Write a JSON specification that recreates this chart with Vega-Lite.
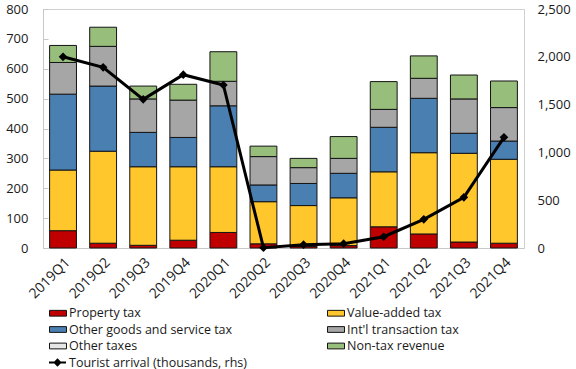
{
  "$schema": "https://vega.github.io/schema/vega-lite/v6.json",
  "width": 481,
  "height": 239,
  "autosize": {"type": "none"},
  "padding": {"left": 43, "top": 9, "right": 52, "bottom": 121},
  "config": {
    "font": "Open Sans",
    "view": {"stroke": "#d0d0d0", "strokeWidth": 1},
    "axis": {"labelFont": "Open Sans", "labelFontSize": 13, "labelColor": "#1a1a1a", "domainColor": "#c8c8c8", "tickColor": "#c8c8c8", "grid": false, "title": null},
    "legend": {"labelFont": "Open Sans", "labelFontSize": 12.5, "labelColor": "#1a1a1a", "padding": 0}
  },
  "datasets": {
    "rev": [
      {"q": "2019Q1", "cat": "Property tax", "k": 1, "v": 58},
      {"q": "2019Q1", "cat": "Value-added tax", "k": 2, "v": 203},
      {"q": "2019Q1", "cat": "Other goods and service tax", "k": 3, "v": 254},
      {"q": "2019Q1", "cat": "Int'l transaction tax", "k": 4, "v": 106},
      {"q": "2019Q1", "cat": "Non-tax revenue", "k": 6, "v": 57},
      {"q": "2019Q2", "cat": "Property tax", "k": 1, "v": 16},
      {"q": "2019Q2", "cat": "Value-added tax", "k": 2, "v": 308},
      {"q": "2019Q2", "cat": "Other goods and service tax", "k": 3, "v": 218},
      {"q": "2019Q2", "cat": "Int'l transaction tax", "k": 4, "v": 133},
      {"q": "2019Q2", "cat": "Non-tax revenue", "k": 6, "v": 64},
      {"q": "2019Q3", "cat": "Property tax", "k": 1, "v": 9},
      {"q": "2019Q3", "cat": "Value-added tax", "k": 2, "v": 263},
      {"q": "2019Q3", "cat": "Other goods and service tax", "k": 3, "v": 115},
      {"q": "2019Q3", "cat": "Int'l transaction tax", "k": 4, "v": 112},
      {"q": "2019Q3", "cat": "Non-tax revenue", "k": 6, "v": 43},
      {"q": "2019Q4", "cat": "Property tax", "k": 1, "v": 26},
      {"q": "2019Q4", "cat": "Value-added tax", "k": 2, "v": 246},
      {"q": "2019Q4", "cat": "Other goods and service tax", "k": 3, "v": 98},
      {"q": "2019Q4", "cat": "Int'l transaction tax", "k": 4, "v": 125},
      {"q": "2019Q4", "cat": "Non-tax revenue", "k": 6, "v": 53},
      {"q": "2020Q1", "cat": "Property tax", "k": 1, "v": 52},
      {"q": "2020Q1", "cat": "Value-added tax", "k": 2, "v": 220},
      {"q": "2020Q1", "cat": "Other goods and service tax", "k": 3, "v": 204},
      {"q": "2020Q1", "cat": "Int'l transaction tax", "k": 4, "v": 82},
      {"q": "2020Q1", "cat": "Non-tax revenue", "k": 6, "v": 99},
      {"q": "2020Q2", "cat": "Property tax", "k": 1, "v": 14},
      {"q": "2020Q2", "cat": "Value-added tax", "k": 2, "v": 141},
      {"q": "2020Q2", "cat": "Other goods and service tax", "k": 3, "v": 56},
      {"q": "2020Q2", "cat": "Int'l transaction tax", "k": 4, "v": 95},
      {"q": "2020Q2", "cat": "Non-tax revenue", "k": 6, "v": 35},
      {"q": "2020Q3", "cat": "Property tax", "k": 1, "v": 5},
      {"q": "2020Q3", "cat": "Value-added tax", "k": 2, "v": 137},
      {"q": "2020Q3", "cat": "Other goods and service tax", "k": 3, "v": 74},
      {"q": "2020Q3", "cat": "Int'l transaction tax", "k": 4, "v": 53},
      {"q": "2020Q3", "cat": "Non-tax revenue", "k": 6, "v": 31},
      {"q": "2020Q4", "cat": "Property tax", "k": 1, "v": 8},
      {"q": "2020Q4", "cat": "Value-added tax", "k": 2, "v": 160},
      {"q": "2020Q4", "cat": "Other goods and service tax", "k": 3, "v": 82},
      {"q": "2020Q4", "cat": "Int'l transaction tax", "k": 4, "v": 50},
      {"q": "2020Q4", "cat": "Non-tax revenue", "k": 6, "v": 73},
      {"q": "2021Q1", "cat": "Property tax", "k": 1, "v": 71},
      {"q": "2021Q1", "cat": "Value-added tax", "k": 2, "v": 184},
      {"q": "2021Q1", "cat": "Other goods and service tax", "k": 3, "v": 149},
      {"q": "2021Q1", "cat": "Int'l transaction tax", "k": 4, "v": 60},
      {"q": "2021Q1", "cat": "Non-tax revenue", "k": 6, "v": 93},
      {"q": "2021Q2", "cat": "Property tax", "k": 1, "v": 47},
      {"q": "2021Q2", "cat": "Value-added tax", "k": 2, "v": 272},
      {"q": "2021Q2", "cat": "Other goods and service tax", "k": 3, "v": 182},
      {"q": "2021Q2", "cat": "Int'l transaction tax", "k": 4, "v": 67},
      {"q": "2021Q2", "cat": "Non-tax revenue", "k": 6, "v": 75},
      {"q": "2021Q3", "cat": "Property tax", "k": 1, "v": 20},
      {"q": "2021Q3", "cat": "Value-added tax", "k": 2, "v": 297},
      {"q": "2021Q3", "cat": "Other goods and service tax", "k": 3, "v": 67},
      {"q": "2021Q3", "cat": "Int'l transaction tax", "k": 4, "v": 115},
      {"q": "2021Q3", "cat": "Non-tax revenue", "k": 6, "v": 80},
      {"q": "2021Q4", "cat": "Property tax", "k": 1, "v": 16},
      {"q": "2021Q4", "cat": "Value-added tax", "k": 2, "v": 281},
      {"q": "2021Q4", "cat": "Other goods and service tax", "k": 3, "v": 61},
      {"q": "2021Q4", "cat": "Int'l transaction tax", "k": 4, "v": 112},
      {"q": "2021Q4", "cat": "Non-tax revenue", "k": 6, "v": 89}
    ],
    "tour": [
      {"q": "2019Q1", "t": 2000},
      {"q": "2019Q2", "t": 1890},
      {"q": "2019Q3", "t": 1555},
      {"q": "2019Q4", "t": 1813},
      {"q": "2020Q1", "t": 1705},
      {"q": "2020Q2", "t": 3},
      {"q": "2020Q3", "t": 35},
      {"q": "2020Q4", "t": 45},
      {"q": "2021Q1", "t": 118},
      {"q": "2021Q2", "t": 300},
      {"q": "2021Q3", "t": 530},
      {"q": "2021Q4", "t": 1158}
    ]
  },
  "layer": [
    {
      "data": {"name": "rev"},
      "mark": {"type": "bar", "stroke": "#141414", "strokeWidth": 1},
      "encoding": {
        "x": {
          "field": "q", "type": "nominal", "sort": null,
          "scale": {"paddingInner": 0.33, "paddingOuter": 0.165},
          "axis": {"labelAngle": -45, "ticks": false, "labelPadding": 7, "labelFontSize": 14, "domainColor": "#c8c8c8"}
        },
        "y": {
          "field": "v", "type": "quantitative", "stack": "zero",
          "scale": {"domain": [0, 800], "nice": false},
          "axis": {"values": [0, 100, 200, 300, 400, 500, 600, 700, 800], "tickSize": -5, "labelPadding": 20, "domain": true}
        },
        "color": {
          "field": "cat", "type": "nominal",
          "scale": {
            "domain": ["Property tax", "Other goods and service tax", "Other taxes", "Value-added tax", "Int'l transaction tax", "Non-tax revenue"],
            "range": ["#C00000", "#4A7FB1", "#E6E6E6", "#FFC72C", "#A6A6A6", "#98BE7B"]
          },
          "legend": {
            "title": null, "orient": "none", "legendX": 6, "legendY": 295,
            "columns": 2, "columnPadding": 92, "rowPadding": 0.5,
            "symbolType": "M-1,-0.34H1V0.34H-1Z", "symbolSize": 289,
            "symbolStrokeColor": "#141414", "symbolStrokeWidth": 1,
            "labelOffset": 2, "labelLimit": 300
          }
        },
        "order": {"field": "k", "type": "quantitative"}
      }
    },
    {
      "data": {"name": "tour"},
      "encoding": {
        "x": {"field": "q", "type": "nominal", "sort": null},
        "y": {
          "field": "t", "type": "quantitative",
          "scale": {"domain": [0, 2500], "nice": false},
          "axis": {"orient": "right", "values": [0, 500, 1000, 1500, 2000, 2500], "format": ",.0f", "ticks": false, "domain": false, "labelPadding": 13}
        }
      },
      "layer": [
        {
          "mark": {"type": "line", "strokeWidth": 3},
          "encoding": {
            "stroke": {
              "datum": "Tourist arrival (thousands, rhs)",
              "scale": {"range": ["#000000"]},
              "legend": {
                "title": null, "orient": "none", "legendX": 5, "legendY": 344,
                "symbolType": "M-1,0H-0.32L0,-0.32L0.32,0H1H0.32L0,0.32L-0.32,0Z",
                "symbolSize": 289, "symbolStrokeWidth": 2,
                "symbolFillColor": "#000000", "symbolStrokeColor": "#000000",
                "labelOffset": 2, "labelLimit": 300,
                "encode": {"symbols": {"update": {"fill": {"value": "#000000"}, "stroke": {"value": "#000000"}, "strokeWidth": {"value": 2}}}}
              }
            }
          }
        },
        {
          "mark": {"type": "point", "shape": "diamond", "filled": true, "size": 75, "color": "#000000", "opacity": 1}
        }
      ]
    }
  ],
  "resolve": {"scale": {"y": "independent"}}
}
